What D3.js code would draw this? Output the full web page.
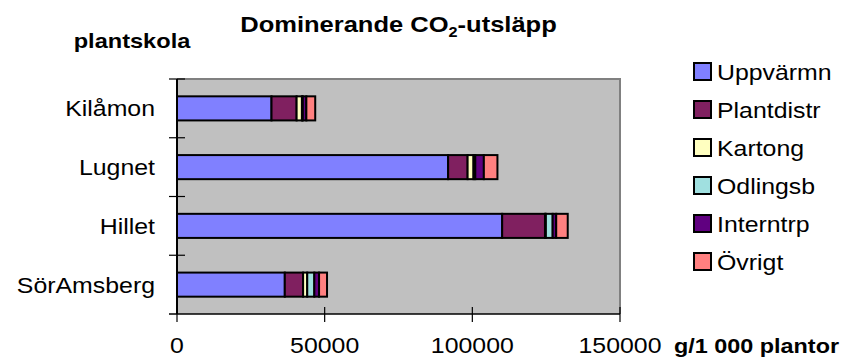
<!DOCTYPE html>
<html>
<head>
<meta charset="utf-8">
<script src="https://cdn.jsdelivr.net/npm/d3@7"></script>
<style>
  html, body { margin: 0; padding: 0; background: #ffffff; }
  svg { display: block; font-family: "Liberation Sans", Arial, sans-serif; }
</style>
</head>
<body>
<svg id="chart" width="843" height="360"></svg>
<script>
// Plant nurseries (top to bottom) and CO2 emission sources
const nurseries = ["Kilåmon", "Lugnet", "Hillet", "SörAmsberg"];
const sources = ["Uppvärmn", "Plantdistr", "Kartong", "Odlingsb", "Interntrp", "Övrigt"];

// Emissions per source, g per 1 000 plants, one value per nursery
const uppvarmn   = [32000, 91800, 110100, 36500];
const plantdistr = [8500, 6600, 14500, 6200];
const kartong    = [1800, 2000, 300, 1400];
const odlingsb   = [300, 600, 2300, 2400];
const interntrp  = [1200, 2900, 1200, 1600];
const ovrigt     = [3000, 4600, 3900, 2700];

const xTicks = [0, 50000, 100000, 150000];

const seriesValues = [uppvarmn, plantdistr, kartong, odlingsb, interntrp, ovrigt];
const colors = ["#8080ff", "#802060", "#ffffc0", "#a0e0e0", "#600080", "#ff8080"];

const svg = d3.select("#chart");
const plot = { left: 177, right: 620, top: 79, bottom: 314 };

const rows = nurseries.map((name, i) => {
  const r = { name };
  sources.forEach((s, j) => { r[s] = seriesValues[j][i]; });
  return r;
});
const stacked = d3.stack().keys(sources)(rows);

const x = d3.scaleLinear().domain([0, 150000]).range([plot.left, plot.right]);
const y = d3.scaleBand().domain(nurseries).range([plot.top, plot.bottom]).padding(0);
const barH = y.bandwidth() * 0.41;

// Text is drawn a little wider than the plain font
function wideText(g, px, py, str, opts) {
  const sx = opts.sx || 1.13;
  const t = g.append("g")
    .attr("transform", `translate(${px},${py}) scale(${sx},1)`)
    .append("text")
    .attr("x", 0).attr("y", 0)
    .attr("text-anchor", opts.anchor || "start")
    .attr("font-size", opts.size || 22)
    .attr("font-weight", opts.bold ? "bold" : "normal")
    .attr("fill", "#000");
  if (str !== null) t.text(str);
  return t;
}

// Plot background
svg.append("rect")
  .attr("x", plot.left).attr("y", plot.top)
  .attr("width", plot.right - plot.left).attr("height", plot.bottom - plot.top)
  .attr("fill", "#c0c0c0");
// Gray frame on top and right
svg.append("path")
  .attr("d", `M${plot.left},${plot.top}H${plot.right}V${plot.bottom}`)
  .attr("fill", "none").attr("stroke", "#808080").attr("stroke-width", 2);

// Stacked bars
const layer = svg.append("g");
stacked.forEach((s, j) => {
  layer.selectAll(null)
    .data(s)
    .join("rect")
    .attr("x", d => x(d[0]))
    .attr("y", d => y(d.data.name) + (y.bandwidth() - barH) / 2)
    .attr("width", d => x(d[1]) - x(d[0]))
    .attr("height", barH)
    .attr("fill", colors[j])
    .attr("stroke", "#000")
    .attr("stroke-width", 2);
});

// Axes lines
svg.append("line")
  .attr("x1", plot.left).attr("x2", plot.left)
  .attr("y1", plot.top).attr("y2", plot.bottom)
  .attr("stroke", "#000").attr("stroke-width", 2);
svg.append("line")
  .attr("x1", plot.left - 8).attr("x2", plot.right)
  .attr("y1", plot.bottom).attr("y2", plot.bottom)
  .attr("stroke", "#000").attr("stroke-width", 1.5);

// Category boundary ticks on the y axis
const bounds = nurseries.map(n => y(n));
svg.selectAll(null).data(bounds)
  .join("line")
  .attr("x1", plot.left - 8).attr("x2", plot.left + 8)
  .attr("y1", d => d).attr("y2", d => d)
  .attr("stroke", "#000").attr("stroke-width", 1.2);

// Value ticks on the x axis
svg.selectAll(null).data(xTicks)
  .join("line")
  .attr("x1", d => x(d)).attr("x2", d => x(d))
  .attr("y1", plot.bottom - 7).attr("y2", plot.bottom + 8)
  .attr("stroke", "#000").attr("stroke-width", 1.2);

xTicks.forEach(t => wideText(svg, x(t), 353, String(t), { anchor: "middle" }));

// Category labels
nurseries.forEach(n => wideText(svg, 155, y(n) + y.bandwidth() / 2 + 8, n, { anchor: "end" }));

// Title with subscript
const title = wideText(svg, (plot.left + plot.right) / 2, 32, null, { anchor: "middle", bold: true, size: 22, sx: 1.16 });
title.append("tspan").text("Dominerande CO");
title.append("tspan").attr("font-size", 14).attr("dy", 5).text("2");
title.append("tspan").attr("dy", -5).text("-utsläpp");

// Axis titles
wideText(svg, 132, 48, "plantskola", { anchor: "middle", bold: true, size: 20, sx: 1.18 });
wideText(svg, 674, 353, "g/1 000 plantor", { anchor: "start", bold: true, size: 20, sx: 1.17 });

// Legend
const legend = svg.append("g");
sources.forEach((s, i) => {
  const cy = 71.5 + i * 38;
  legend.append("rect")
    .attr("x", 694).attr("y", cy - 8.5)
    .attr("width", 17).attr("height", 17)
    .attr("fill", colors[i]).attr("stroke", "#000").attr("stroke-width", 2);
  wideText(legend, 717, cy + 8, s, { anchor: "start" });
});
</script>
</body>
</html>
